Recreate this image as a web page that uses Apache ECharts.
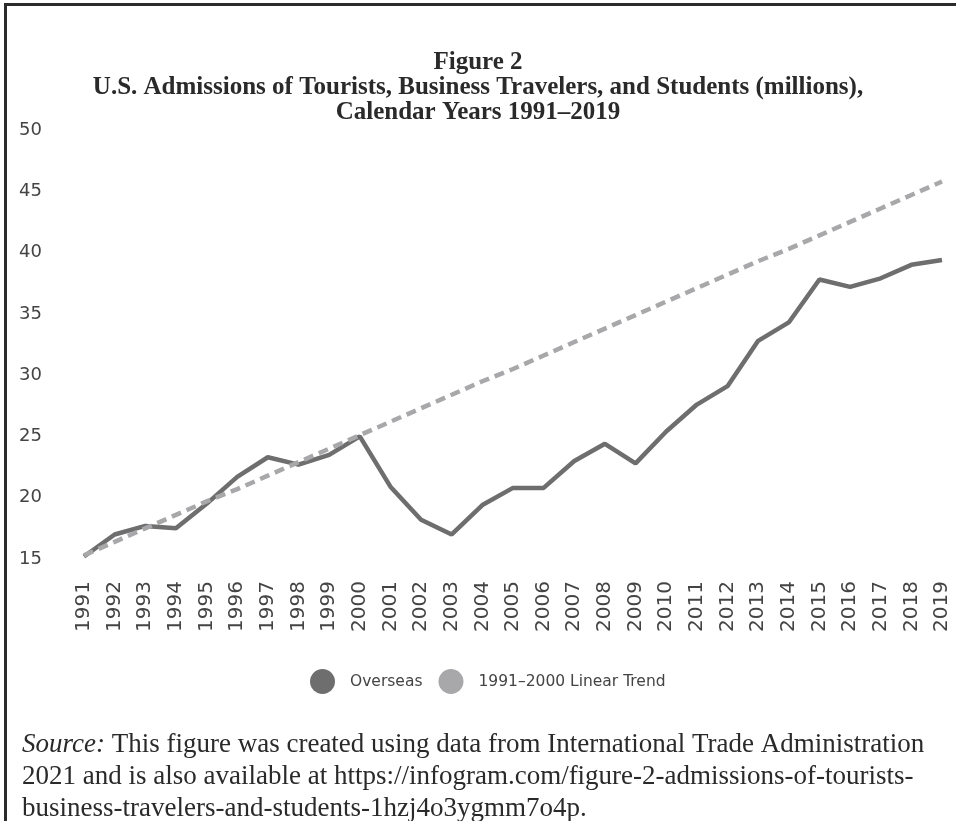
<!DOCTYPE html>
<html>
<head>
<meta charset="utf-8">
<script src="https://cdn.jsdelivr.net/npm/echarts@6/dist/echarts.min.js"></script>
<style>
    body { margin: 0; background: #fff; }
    .wrap { position: relative; width: 956px; height: 821px; }
    #chart { width: 956px; height: 821px; }
    .frame {
        position: absolute; top: 3px; left: 4px; right: 0; bottom: 0;
        border-top: 3px solid #2b2b2b; border-left: 3px solid #2b2b2b;
        pointer-events: none;
    }
</style>
</head>
<body>
<div class="wrap">
    <div id="chart"></div>
    <div class="frame"></div>
</div>
<script>
// 年份
const years = ['1991', '1992', '1993', '1994', '1995', '1996', '1997', '1998', '1999', '2000',
    '2001', '2002', '2003', '2004', '2005', '2006', '2007', '2008', '2009', '2010',
    '2011', '2012', '2013', '2014', '2015', '2016', '2017', '2018', '2019']

// Overseas (millions)
const overseas = [15.2, 17.0, 17.7, 17.5, 19.5, 21.7, 23.3, 22.7, 23.5, 25.0,
    20.9, 18.2, 17.0, 19.4, 20.8, 20.8, 23.0, 24.4, 22.8, 25.4,
    27.6, 29.1, 32.8, 34.3, 37.8, 37.2, 37.9, 39.0, 39.4]

// 1991–2000 linear trend
const trend = [15.3, 16.4, 17.5, 18.6, 19.7, 20.7, 21.8, 22.9, 24.0, 25.1,
    26.2, 27.3, 28.4, 29.5, 30.5, 31.6, 32.7, 33.8, 34.9, 36.0,
    37.1, 38.2, 39.3, 40.3, 41.4, 42.5, 43.6, 44.7, 45.8]

// y轴刻度
const yTicks = [15, 20, 25, 30, 35, 40, 45, 50]

const seriesNames = ['Overseas', '1991\u20132000 Linear Trend']

const titleLines = [
    'Figure 2',
    'U.S. Admissions of Tourists, Business Travelers, and Students (millions),',
    'Calendar Years 1991\u20132019'
]

const sourceLines = [
    '{i|Source:} This figure was created using data from International Trade Administration',
    '2021 and is also available at https://infogram.com/figure-2-admissions-of-tourists-',
    'business-travelers-and-students-1hzj4o3ygmm7o4p.'
]

let myChart = echarts.init(document.getElementById('chart'))

let option = {
    animation: false,
    title: {
        text: titleLines.join('\n'),
        left: 'center',
        top: 50,
        padding: 0,
        textStyle: {
            fontFamily: 'Liberation Serif',
            fontWeight: 'bold',
            fontSize: 25,
            lineHeight: 25,
            color: '#2a2a2a'
        }
    },
    grid: {
        left: 84,
        right: 14,
        top: 130,
        bottom: 262
    },
    legend: {
        data: seriesNames,
        top: 664,
        left: 305,
        icon: 'circle',
        itemWidth: 25,
        itemHeight: 25,
        itemGap: 16,
        textStyle: {
            fontFamily: 'DejaVu Sans',
            fontSize: 15.5,
            color: '#444',
            padding: [0, 0, 0, 10]
        }
    },
    xAxis: {
        type: 'category',
        data: years,
        boundaryGap: false,
        axisLine: { show: false },
        axisTick: { show: false },
        axisLabel: {
            rotate: 90,
            interval: 0,
            margin: 22,
            fontFamily: 'DejaVu Sans',
            fontSize: 20,
            color: '#444'
        }
    },
    yAxis: {
        type: 'value',
        min: yTicks[0],
        max: yTicks[yTicks.length - 1],
        interval: 5,
        splitLine: { show: false },
        axisLine: { show: false },
        axisTick: { show: false },
        axisLabel: {
            margin: 42,
            fontFamily: 'DejaVu Sans',
            fontSize: 18,
            color: '#444'
        }
    },
    series: [
        {
            name: seriesNames[0],
            type: 'line',
            data: overseas,
            symbol: 'none',
            lineStyle: { color: '#6e6e6e', width: 4.5 },
            itemStyle: { color: '#6e6e6e' }
        },
        {
            name: seriesNames[1],
            type: 'line',
            data: trend,
            symbol: 'none',
            lineStyle: { color: '#a8a8aa', width: 4.5, type: [10, 6] },
            itemStyle: { color: '#a8a8aa' }
        }
    ],
    graphic: [
        {
            type: 'text',
            left: 22,
            top: 729,
            style: {
                text: sourceLines.join('\n'),
                fontFamily: 'Liberation Serif',
                fontSize: 27,
                lineHeight: 32,
                fill: '#2a2a2a',
                rich: {
                    i: {
                        fontFamily: 'Liberation Serif',
                        fontStyle: 'italic',
                        fontSize: 27,
                        lineHeight: 32,
                        fill: '#2a2a2a'
                    }
                }
            }
        }
    ]
}

myChart.setOption(option)
</script>
</body>
</html>
